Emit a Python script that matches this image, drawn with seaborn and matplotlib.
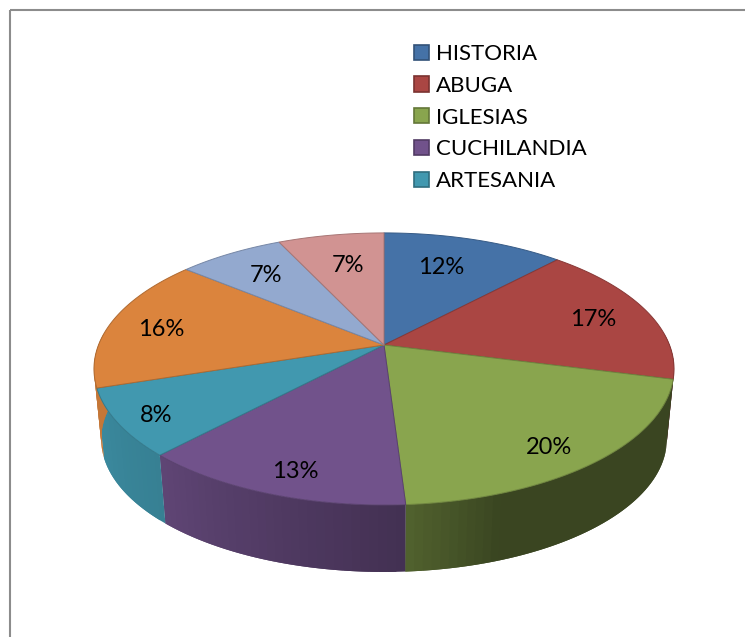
import numpy as np
import matplotlib
matplotlib.use("Agg")
import matplotlib.pyplot as plt
import seaborn as sns
from matplotlib.patches import Patch

# --- Data ---
values = [12, 17, 20, 13, 8, 16, 7, 7]
legend_names = ["HISTORIA", "ABUGA", "IGLESIAS", "CUCHILANDIA", "ARTESANIA"]
slice_colors = ["#4572a7", "#aa4643", "#89a54e", "#71528b", "#4198af", "#db843d", "#93a9cf", "#d19392"]

# --- Layout (pixels of the 745x637 picture) ---
CX, CY = 384, 345
A, B, K = 285.5, 131.8, 0.176   # perspective tilt of the disc
DROP, SHRINK = 71, 0.975        # how the bottom face sits under the top one
label_xy = [(441, 268), (593, 320), (549, 448), (295, 472), (156, 415), (161, 330), (266, 276), (348, 266)]

sns.set_theme(style="white")
plt.rcParams["font.family"] = ["Lato", "DejaVu Sans"]
palette = sns.color_palette(slice_colors)


def project(theta, bottom=False):
    # theta in degrees, clockwise from 12 o'clock
    t = np.radians(theta)
    u, v = np.sin(t), np.cos(t)
    den = 1 + K * v
    if bottom:
        return CX + SHRINK * A * u / den, CY + DROP - SHRINK * B * v / den
    return CX + A * u / den, CY - B * v / den


def shade(theta):
    # the side wall gets darker towards the right
    return np.interp(theta, [100, 160, 176, 223, 250, 280], [0.42, 0.42, 0.59, 0.84, 0.9, 0.9])


fig = plt.figure(figsize=(7.45, 6.37), dpi=100)
ax = fig.add_axes([0, 0, 1, 1])
ax.set_xlim(0, 745)
ax.set_ylim(637, 0)
ax.axis("off")

# chart frame, only top and left are in the picture
ax.plot([9.5, 9.5], [637, 9.5], color="#8c8c8c", lw=1.5, solid_capstyle="butt")
ax.plot([9.5, 745], [9.5, 9.5], color="#8c8c8c", lw=1.5, solid_capstyle="butt")

edges = np.concatenate([[0], np.cumsum(values)]) / np.sum(values) * 360

# --- Side wall ---
for start, end, col in zip(edges[:-1], edges[1:], palette):
    lo, hi = max(start, 85), min(end, 275)
    if hi <= lo:
        continue
    steps = np.arange(lo, hi, 1.5)
    for a0 in steps:
        # each strip runs a bit under the next one so no seams show
        a1 = min(a0 + 3, hi)
        arc = np.linspace(a0, a1, 5)
        x0, y0 = project(arc)
        x1, y1 = project(arc[::-1], bottom=True)
        c = np.array(col) * shade(a0 + 0.75)
        ax.fill(np.r_[x0, x1], np.r_[y0, y1], color=c, lw=0)

# --- Top face ---
for start, end, col in zip(edges[:-1], edges[1:], palette):
    x, y = project(np.linspace(start, end, 80))
    ax.fill(np.r_[CX, x], np.r_[CY, y], facecolor=col,
            edgecolor=np.array(col) * 0.8, lw=0.7, joinstyle="round")

# --- Percent labels ---
for (lx, ly), v in zip(label_xy, values):
    ax.text(lx, ly, f"{v}%", ha="center", va="center", fontsize=17, color="black")

# --- Legend ---
handles = [Patch(facecolor=c, edgecolor=np.array(c) * 0.72, lw=1.2) for c in palette[:len(legend_names)]]
ax.legend(handles, legend_names, loc="upper left", bbox_to_anchor=(414 / 745, 1 - 44 / 637),
          frameon=False, fontsize=16, borderpad=0, borderaxespad=0, labelspacing=0.53,
          handlelength=0.68, handleheight=0.68, handletextpad=0.3, labelcolor="black")

fig.savefig("out.png", dpi=100)
